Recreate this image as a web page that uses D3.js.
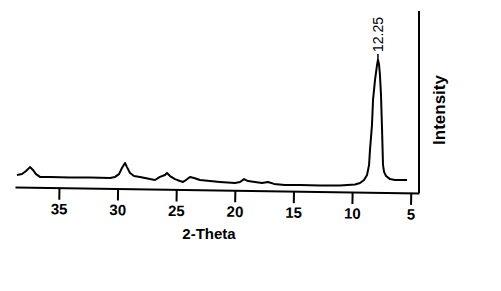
<!DOCTYPE html>
<html>
<head>
<meta charset="utf-8">
<script src="https://cdn.jsdelivr.net/npm/d3@7"></script>
<style>
  body { margin: 0; background: #fff; }
  svg { display: block; font-family: "Liberation Sans", Arial, sans-serif; }
</style>
</head>
<body>
<div id="chart"></div>
<script>
// diffractogram (2-theta in degrees, intensity in arbitrary units)
const twoTheta = [38.58, 38.15, 37.81, 37.47, 37.22, 36.96, 36.62, 35.77, 34.06, 32.35,
  30.65, 30.22, 29.88, 29.63, 29.37, 29.20, 28.94, 28.60, 28.09, 27.24,
  26.81, 26.39, 25.96, 25.79, 25.53, 25.11, 24.68, 24.42, 24.17, 23.83,
  23.49, 22.97, 22.12, 21.27, 19.99, 19.56, 19.22, 18.88, 18.28, 17.69,
  17.18, 16.66, 15.73, 14.45, 12.74, 11.04, 9.76, 9.33, 8.99, 8.73,
  8.56, 8.48, 8.31, 8.22, 8.05, 7.88, 7.80, 7.71, 7.63, 7.54,
  7.45, 7.37, 7.28, 7.11, 6.77, 6.35, 5.32];
const intensity = [8.4, 8.9, 10.6, 12.8, 11.2, 8.9, 7.3, 7.3, 7.0, 7.0,
  6.7, 7.3, 8.9, 12.3, 15.1, 12.8, 9.5, 7.8, 7.3, 6.1,
  5.6, 7.3, 8.4, 9.5, 7.8, 6.1, 5.0, 4.5, 5.6, 7.3,
  6.7, 5.6, 5.0, 4.5, 3.9, 4.5, 6.1, 5.0, 4.5, 3.9,
  4.5, 3.4, 2.8, 2.8, 2.5, 2.5, 3.1, 3.9, 5.6, 8.4,
  14.0, 22.3, 36.3, 50.3, 61.5, 69.8, 72.6, 70.4, 64.2, 53.1,
  33.5, 14.0, 10.1, 7.8, 6.1, 5.6, 5.6];

const xTicks = [35, 30, 25, 20, 15, 10, 5];
const peakLabels = ["12.25"];
const peakAt = [7.80];
const peakHeight = [72.6];

const width = 501, height = 291;
const axisY = 187;

const svg = d3.select('#chart').append('svg')
  .attr('width', width)
  .attr('height', height);

const x = d3.scaleLinear().domain([38.75, 4.3]).range([15, 419]);
const y = d3.scaleLinear().domain([0, 100]).range([190, 11]);

// x axis (the scan is a little tilted, so is the axis)
const gx = svg.append('g')
  .attr('transform', `translate(0,${axisY}) rotate(0.85, 15, 0)`)
  .call(d3.axisBottom(x).tickValues(xTicks).tickSize(12).tickSizeOuter(0).tickPadding(4));

gx.select('.domain').attr('stroke', '#000').attr('stroke-width', 2);
gx.selectAll('.tick line').attr('stroke', '#000').attr('stroke-width', 2);
gx.selectAll('.tick text')
  .attr('fill', '#000')
  .style('font-size', '15px')
  .style('font-weight', 'bold');

// right frame line
svg.append('line')
  .attr('x1', x.range()[1]).attr('x2', x.range()[1])
  .attr('y1', y(100)).attr('y2', axisY + 6)
  .attr('stroke', '#000')
  .attr('stroke-width', 2);

const line = d3.line()
  .x((d, i) => x(twoTheta[i]))
  .y(d => y(d));

svg.append('path')
  .datum(intensity)
  .attr('fill', 'none')
  .attr('stroke', '#000')
  .attr('stroke-width', 2)
  .attr('stroke-linejoin', 'round')
  .attr('d', line);

// peak annotation
peakLabels.forEach((lab, i) => {
  const px = x(peakAt[i]), py = y(peakHeight[i]);
  svg.append('line')
    .attr('x1', px).attr('x2', px)
    .attr('y1', py).attr('y2', py - 6)
    .attr('stroke', '#000')
    .attr('stroke-width', 1.5);
  svg.append('text')
    .attr('transform', `translate(${px + 5},${py - 8}) rotate(-90)`)
    .attr('text-anchor', 'start')
    .style('font-size', '14px')
    .text(lab);
});

svg.append('text')
  .attr('transform', `translate(445,110) rotate(-90)`)
  .attr('text-anchor', 'middle')
  .style('font-size', '17px')
  .style('font-weight', 'bold')
  .text('Intensity');

svg.append('text')
  .attr('x', 209)
  .attr('y', 239)
  .attr('text-anchor', 'middle')
  .style('font-size', '15px')
  .style('font-weight', 'bold')
  .text('2-Theta');
</script>
</body>
</html>
